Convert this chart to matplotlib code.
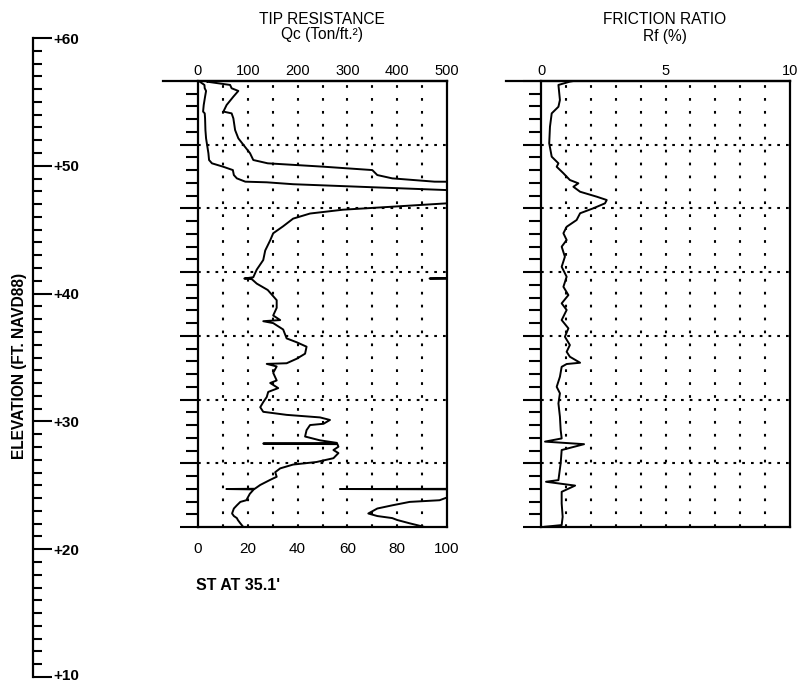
import numpy as np
from matplotlib import pyplot as plt
from matplotlib import transforms
from matplotlib.ticker import MultipleLocator

plt.rcParams['font.family'] = ['Liberation Sans', 'DejaVu Sans']

# cone tip resistance, tsf, vs depth below top of sounding (ft)
qc_depth = [0.0, 0.05, 0.31, 0.57, 0.78, 1.23, 1.88, 2.40, 2.54, 2.93, 3.85, 4.50, 5.00, 5.67,
            6.20, 6.46, 6.72, 6.99, 7.38, 7.64, 7.90, 7.95, 8.10, 8.30, 8.56, 8.80, 9.40, 9.60,
            9.86, 10.1, 10.4, 10.8, 11.4, 11.95, 12.5, 13.3, 14.05, 14.8, 15.4, 15.5, 15.55,
            15.9, 16.4, 17.2, 17.8, 18.4, 18.76, 18.85, 19.0, 19.5, 20.2, 20.5, 20.85, 21.4,
            21.8, 22.15, 22.2, 22.4, 22.9, 23.5, 23.7, 24.1, 24.4, 24.8, 25.2, 25.6, 25.96,
            26.2, 26.4, 26.6, 26.9, 27.0, 27.4, 27.9, 28.2, 28.4, 28.45, 28.5, 28.7, 28.96,
            29.2, 29.6, 29.9, 30.1, 30.4, 30.7, 31.06, 31.3, 31.7, 32.0, 32.02, 32.05, 32.4,
            32.9, 33.03, 33.3, 33.55, 33.94, 34.14, 34.3, 34.45, 34.71, 35.0]
qc_tsf = [4, 3.5, 12.9, 13.5, 16.2, 14.2, 11.5, 10.2, 13.5, 14.2, 14.9, 16.2, 18.2, 20.9,
          22.2, 28, 50, 70, 72, 78, 95, 138, 191, 325, 500, 600, 600, 500,
          392, 291, 225, 191, 171, 151, 145, 135, 131, 118, 111, 93, 108,
          118, 140, 158, 158, 151, 165, 131, 151, 171, 178, 198, 218, 215,
          198, 178, 138, 158, 151, 158, 145, 161, 141, 138, 131, 125, 131,
          178, 245, 265, 252, 225, 218, 215, 245, 279, 131, 280, 282, 272,
          282, 272, 238, 191, 165, 155, 158, 145, 125, 114, 57, 112, 104,
          97, 85, 78, 72, 68.4, 72, 78, 80, 85, 91]

# friction ratio, %
rf_depth = [0.0, 0.05, 0.31, 1.49, 2.02, 2.54, 3.59, 4.89, 5.94, 6.46, 6.73, 7.24, 7.77, 8.03,
            8.30, 8.69, 9.08, 9.34, 9.60, 9.99, 10.38, 10.91, 11.44, 11.95, 12.48, 13.0,
            13.79, 14.58, 15.36, 16.15, 16.8, 17.45, 17.97, 18.76, 19.41, 20.07, 20.72,
            21.25, 21.64, 22.11, 22.21, 22.43, 23.21, 24.0, 24.51, 25.30, 26.35, 27.39,
            28.05, 28.3, 28.5, 28.96, 30.0, 31.32, 31.45, 31.75, 32.24, 33.15, 34.2, 34.85,
            34.98]
rf_pct = [1.3, 1.16, 0.70, 0.76, 0.70, 0.43, 0.36, 0.33, 0.43, 0.70, 0.63, 0.90, 1.16, 1.50,
          1.30, 1.57, 2.24, 2.64, 2.57, 2.10, 1.57, 1.43, 1.03, 0.90, 1.03, 0.83,
          0.96, 0.83, 1.03, 0.90, 1.10, 0.83, 1.03, 0.83, 1.10, 0.96, 1.16,
          1.03, 1.16, 1.57, 1.03, 0.83, 0.76, 0.63, 0.76, 0.70, 0.76, 0.79,
          0.83, 0.16, 1.73, 0.83, 0.79, 0.70, 0.2, 1.37, 0.83, 0.83, 0.87, 0.83,
          0.16]

elev_ticks = [10, 20, 30, 40, 50, 60]
qc_ticks = [0, 100, 200, 300, 400, 500]
qc_exp_ticks = [0, 20, 40, 60, 80, 100]
rf_ticks = [0, 5, 10]

W, H = 798, 683


def box(x0, y0, x1, y1):
    return [x0 / W, 1 - y1 / H, (x1 - x0) / W, (y1 - y0) / H]


fig = plt.figure(figsize=(W / 100, H / 100), dpi=100)

# elevation scale
ax_el = fig.add_axes(box(23, 38, 33, 677))
ax_el.patch.set_visible(False)
for s in ['left', 'top', 'bottom']:
    ax_el.spines[s].set_visible(False)
ax_el.spines['right'].set_linewidth(1.6)
ax_el.set_ylim(10, 60)
ax_el.set_xticks([])
ax_el.yaxis.tick_right()
ax_el.set_yticks(elev_ticks)
ax_el.set_yticklabels(['+%d' % v for v in elev_ticks], fontweight='bold')
ax_el.yaxis.set_minor_locator(MultipleLocator(1))
ax_el.tick_params(axis='y', which='major', direction='out', length=13.5, width=1.5,
                  pad=1, labelsize=11)
ax_el.tick_params(axis='y', which='minor', direction='out', length=6.8, width=1.5)
# keep the bottom label inside the picture
lbl = ax_el.get_yticklabels()[0]
lbl.set_transform(lbl.get_transform() +
                  transforms.ScaledTranslation(0, 3 / 100, fig.dpi_scale_trans))
fig.text(20 / W, 1 - 366 / H, 'ELEVATION (FT. NAVD88)', rotation=90, ha='center',
         va='center', fontsize=11.2, fontweight='bold')


def depth_panel(ax, xmax, xstep, ticks):
    ax.set_xlim(0, xmax)
    ax.set_ylim(35, 0)
    for s in ax.spines.values():
        s.set_linewidth(1.6)
    ax.set_yticks(np.arange(0, 36, 5))
    ax.yaxis.set_minor_locator(MultipleLocator(1))
    ax.tick_params(axis='y', which='major', direction='out', length=13, width=1.5,
                   labelleft=False)
    ax.tick_params(axis='y', which='minor', direction='out', length=8.6, width=1.5)
    ax.xaxis.tick_top()
    ax.set_xticks(ticks)
    ax.tick_params(axis='x', length=0, pad=2.5, labelsize=10.5)
    for v in np.arange(xstep, xmax - xstep / 2, xstep):
        ax.axvline(v, color='k', lw=1.5, ls=(0, (1.3, 4.9)), zorder=1)
    for d in range(5, 35, 5):
        ax.axhline(d, color='k', lw=1.5, ls=(0, (1.3, 2.9)), zorder=1)
    ax.plot([-35 / 249, 1], [1, 1], transform=ax.transAxes, color='k', lw=1.6,
            clip_on=False)


# tip resistance
ax1 = fig.add_axes(box(198, 81, 447, 527))
ax2 = ax1.twiny()
depth_panel(ax1, 500, 50, qc_ticks)
ax1.plot(qc_tsf, qc_depth, color='k', lw=1.4, zorder=3)

ax2.set_xlim(0, 100)
ax2.set_ylim(35, 0)
for s in ax2.spines.values():
    s.set_visible(False)
ax2.xaxis.tick_bottom()
ax2.set_xticks(qc_exp_ticks)
ax2.tick_params(axis='x', length=0, pad=11, labelsize=11)
ax2.plot(qc_tsf, qc_depth, color='k', lw=1.4, zorder=3)

fig.text(322 / W, 1 - 19 / H, 'TIP RESISTANCE', ha='center', va='center', fontsize=11.2)
fig.text(322 / W, 1 - 35 / H, 'Qc (Ton/ft.²)', ha='center', va='center', fontsize=11.2)
fig.text(196 / W, 1 - 586 / H, "ST AT 35.1'", ha='left', va='center', fontsize=11.5,
         fontweight='bold')

# friction ratio
ax3 = fig.add_axes(box(541, 81, 790, 527))
depth_panel(ax3, 10, 1, rf_ticks)
ax3.plot(rf_pct, rf_depth, color='k', lw=1.4, zorder=3)

fig.text(665 / W, 1 - 19 / H, 'FRICTION RATIO', ha='center', va='center', fontsize=11.2)
fig.text(665 / W, 1 - 36 / H, 'Rf (%)', ha='center', va='center', fontsize=11.2)

fig.savefig('out.png', dpi=100)
